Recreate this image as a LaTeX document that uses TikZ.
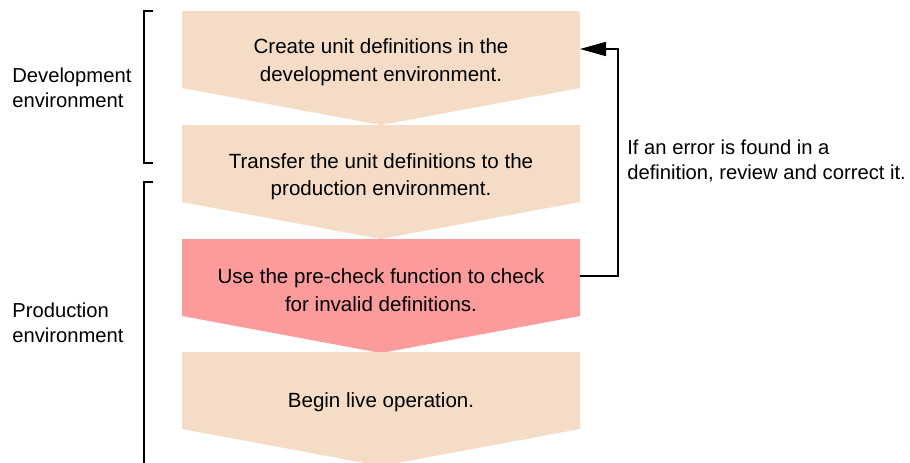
\documentclass[tikz,border=0pt]{standalone}
\usepackage{fontspec}
\setmainfont{Liberation Sans}
\usepackage{xcolor}
\usepackage{tikz}
\usetikzlibrary{arrows.meta, positioning}
\definecolor{stepbeige}{RGB}{244,220,198}
\definecolor{steppink}{RGB}{252,155,155}

\begin{document}
\begin{tikzpicture}[x=0.02cm, y=-0.02cm,
  steptext/.style={align=center, font=\fontsize{11.7}{15.6}\selectfont},
  sidetext/.style={anchor=west, align=left, inner sep=0pt, font=\fontsize{11.5}{14.4}\selectfont},
  bracket/.style={line width=1pt},
  loopback/.style={line width=1pt, -{Triangle[length=0.52cm, width=0.28cm]}}]
\useasboundingbox (0,0) rectangle (910,463);

% Chevron steps
\foreach \top/\col in {11/stepbeige, 125/stepbeige, 239/steppink, 352/stepbeige}
  \fill[\col] (182,\top) -- (580,\top) -- (580,\top+77) -- (381,\top+114)
              -- (182,\top+77) -- cycle;

% Step texts
\node[steptext] (create) at (381,62) {Create unit definitions in the\\development environment.};
\node[steptext] (transfer) at (381,176.5) {Transfer the unit definitions to the\\production environment.};
\node[steptext] (precheck) at (381,290) {Use the pre-check function to check\\for invalid definitions.};
\node[steptext] (live) at (381,402) {Begin live operation.};

% Environment brackets
\node[sidetext] (dev) at (12,88) {Development\\environment};
\draw[bracket] (153,11) -- (144,11) -- (144,163) -- (153,163);
\node[sidetext] (prod) at (12,323) {Production\\environment};
\draw[bracket] (153,182) -- (144,182) -- (144,470);

% Loop back on error
\coordinate (checkout) at (580,276);
\coordinate (createin) at (580,49);
\coordinate (turn) at (618,160);
\draw[loopback] (checkout) -| (turn) |- (createin);
\node[sidetext] (note) at (627,161) {If an error is found in a\\definition, review and correct it.};
\end{tikzpicture}
\end{document}
